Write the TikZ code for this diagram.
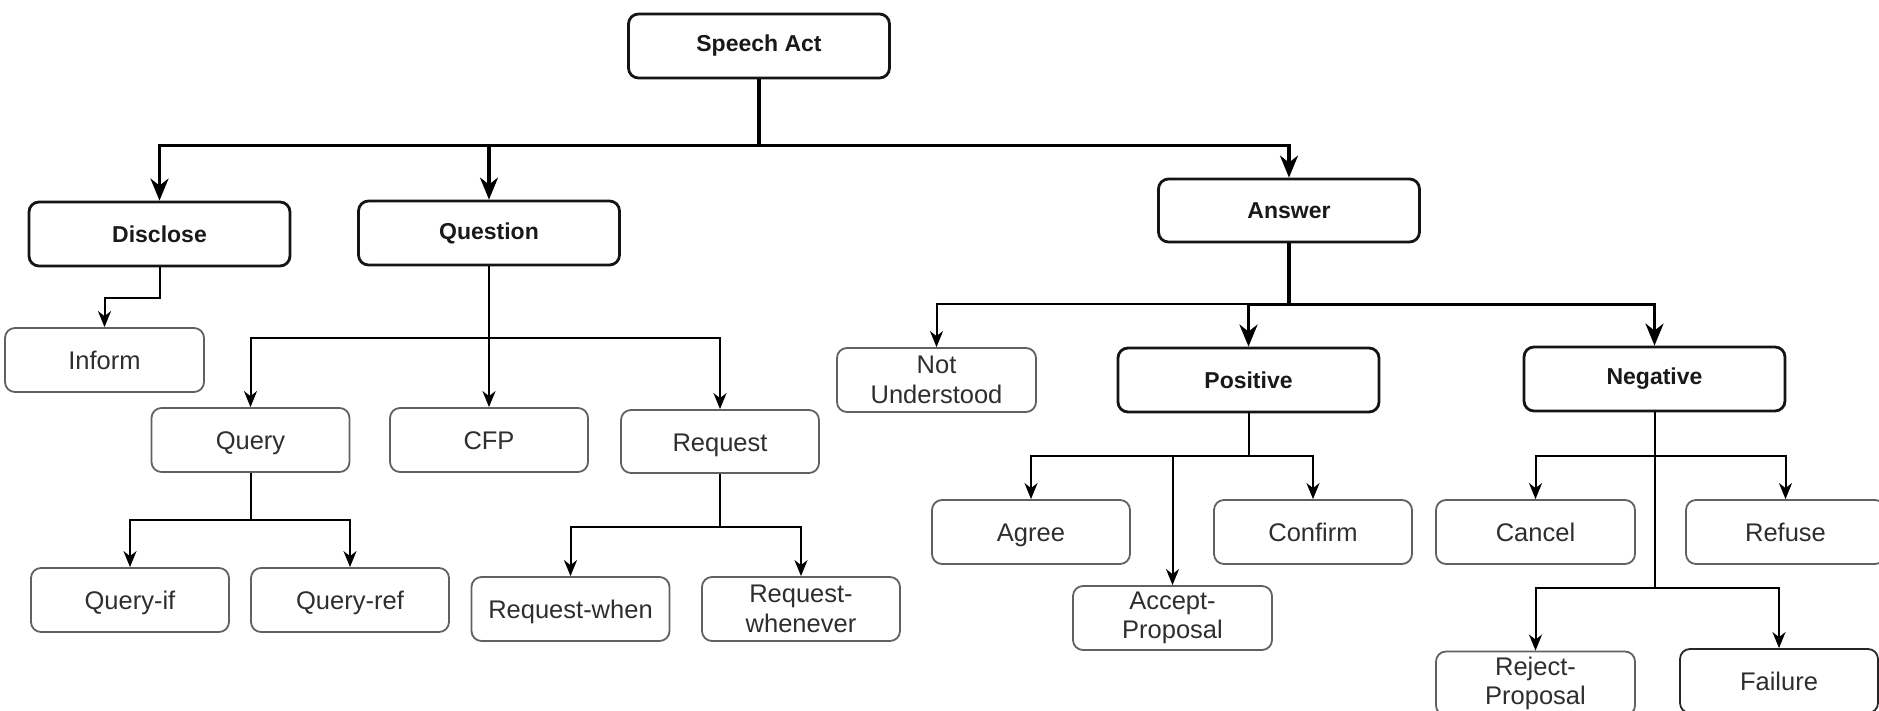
\documentclass[tikz,border=0pt]{standalone}
\usepackage{fontspec}
\setmainfont{Liberation Sans}
\usetikzlibrary{arrows.meta}

\begin{document}
\begin{tikzpicture}[x=1pt, y=-1pt,
  box/.style={draw=black!62, line width=1.8pt, rounded corners=10pt,
    minimum width=198pt, minimum height=64pt, inner sep=0pt, align=center,
    text=black!82, font=\fontsize{25.5}{29.5}\selectfont,
    text height=19pt, text depth=0pt},
  twoline/.style={text height=, text depth=},
  headbox/.style={box, twoline, draw=black!92, line width=2.8pt,
    minimum width=261pt, text=black!90,
    font=\bfseries\fontsize{23}{27}\selectfont},
  link/.style={draw=black, line width=2pt,
    -{Stealth[length=16pt, width=13pt, inset=5pt]}},
  mainlink/.style={draw=black, line width=3.4pt,
    -{Stealth[length=22pt, width=18pt, inset=7pt]}}
]
\useasboundingbox (0,0) rectangle (1879,711);

% level 0
\node[headbox] (sa) at (759,46) {Speech Act};

% level 1
\node[headbox] (disclose) at (159.5,234) {Disclose};
\node[headbox] (question) at (489,233) {Question};
\node[headbox, minimum height=63pt] (answer) at (1289,210.5) {Answer};

% under Disclose and Question
\node[box, minimum width=199pt] (inform) at (104.5,360) {Inform};
\node[box] (query) at (250.5,440) {Query};
\node[box] (cfp) at (489,440) {CFP};
\node[box, minimum height=63pt] (request) at (720,441.5) {Request};
\node[box] (queryif) at (130,600) {Query-if};
\node[box] (queryref) at (350,600) {Query-ref};
\node[box] (reqwhen) at (570.5,609) {Request-when};
\node[box, twoline] (reqwhenever) at (801,609) {Request-\\whenever};

% under Answer
\node[box, twoline, minimum width=199pt] (notund) at (936.5,380) {Not\\Understood};
\node[headbox] (positive) at (1248.5,380) {Positive};
\node[headbox] (negative) at (1654.5,379) {Negative};

% under Positive
\node[box] (agree) at (1031,532) {Agree};
\node[box] (confirm) at (1313,532) {Confirm};
\node[box, twoline, minimum width=199pt] (accept) at (1172.5,618) {Accept-\\Proposal};

% under Negative
\node[box, minimum width=199pt] (cancel) at (1535.5,532) {Cancel};
\node[box, minimum width=199pt] (refuse) at (1785.5,532) {Refuse};
\node[box, twoline, minimum width=199pt] (reject) at (1535.5,683.5) {Reject-\\Proposal};
\node[box, draw=black!85] (failure) at (1779,681) {Failure};

% top-level branches
\draw[mainlink] (sa.south) -- ++(0,66) -| (disclose.north);
\draw[mainlink] (sa.south) -- ++(0,66) -| (question.north);
\draw[mainlink] (sa.south) -- ++(0,66) -| (answer.north);

% Disclose and Question branches
\draw[link] (disclose.south) -- ++(0,31) -| (inform.north);
\draw[link] (question.south) -- ++(0,72) -| (query.north);
\draw[link] (question.south) -- (cfp.north);
\draw[link] (question.south) -- ++(0,72) -| (request.north);
\draw[link] (query.south) -- ++(0,47) -| (queryif.north);
\draw[link] (query.south) -- ++(0,47) -| (queryref.north);
\draw[link] (request.south) -- ++(0,53) -| (reqwhen.north);
\draw[link] (request.south) -- ++(0,53) -| (reqwhenever.north);

% Answer branches
\draw[link] (answer.south) -- ++(0,61) -| (notund.north);
\draw[mainlink] (answer.south) -- ++(0,61) -| (positive.north);
\draw[mainlink] (answer.south) -- ++(0,61) -| (negative.north);

% Positive branches
\draw[link] (positive.south) -- ++(0,43) -| (agree.north);
\draw[link] (positive.south) -- ++(0,43) -| (confirm.north);
\draw[link] (positive.south) -- ++(0,43) -| (accept.north);

% Negative branches
\draw[link] (negative.south) -- ++(0,44) -| (cancel.north);
\draw[link] (negative.south) -- ++(0,44) -| (refuse.north);
\draw[link] (negative.south) -- ++(0,176) -| (reject.north);
\draw[link] (negative.south) -- ++(0,176) -| (failure.north);
\end{tikzpicture}
\end{document}
